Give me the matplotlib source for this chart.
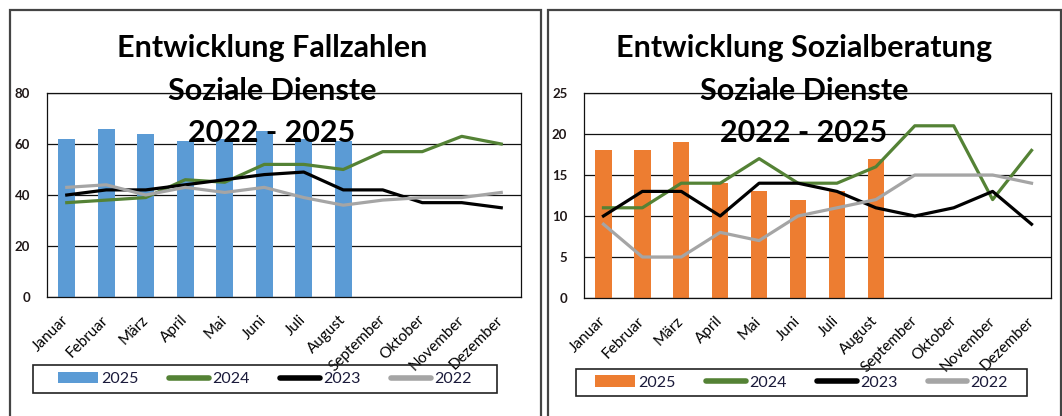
import matplotlib
matplotlib.use("Agg")
import matplotlib.pyplot as plt
from matplotlib.patches import Rectangle, Patch
from matplotlib.lines import Line2D

plt.rcParams["font.family"] = ["Lato", "DejaVu Sans"]

W, H = 1062, 416

months = ["Januar", "Februar", "März", "April", "Mai", "Juni", "Juli",
          "August", "September", "Oktober", "November", "Dezember"]

# Fallzahlen
fall_2025 = [62, 66, 64, 61, 62, 65, 62, 61]
fall_2024 = [37, 38, 39, 46, 45, 52, 52, 50, 57, 57, 63, 60]
fall_2023 = [40, 42, 42, 44, 46, 48, 49, 42, 42, 37, 37, 35]
fall_2022 = [43, 44, 40, 43, 41, 43, 39, 36, 38, 39, 39, 41]

# Sozialberatung
sb_2025 = [18, 18, 19, 14, 13, 12, 13, 17]
sb_2024 = [11, 11, 14, 14, 17, 14, 14, 16, 21, 21, 12, 18]
sb_2023 = [10, 13, 13, 10, 14, 14, 13, 11, 10, 11, 13, 9]
sb_2022 = [9, 5, 5, 8, 7, 10, 11, 12, 15, 15, 15, 14]

BLUE = "#5b9bd5"
ORANGE = "#ed7d31"
GREEN = "#548235"
BLACK = "#000000"
GRAY = "#a5a5a5"


def px_rect(x0, y0, x1, y1):
    # pixel box (top-left origin) -> figure fraction [l, b, w, h]
    return [x0 / W, 1 - y1 / H, (x1 - x0) / W, (y1 - y0) / H]


def draw_panel(fig, box, bars, bar_color, s24, s23, s22, ymax, ystep,
               title, title_x, legend_box, frame_box):
    ax = fig.add_axes(px_rect(*box))
    x = range(len(months))
    ax.bar(range(len(bars)), bars, width=0.42, color=bar_color, zorder=2)
    ax.plot(x, s24, color=GREEN, lw=2.3, zorder=3)
    ax.plot(x, s23, color=BLACK, lw=2.3, zorder=3)
    ax.plot(x, s22, color=GRAY, lw=2.3, zorder=3)

    ax.set_xlim(-0.5, len(months) - 0.5)
    ax.set_ylim(0, ymax)
    ax.set_yticks(range(0, ymax + 1, ystep))
    ax.yaxis.grid(True, color="#111111", lw=0.9, zorder=1)
    ax.set_axisbelow(True)
    for sp in ax.spines.values():
        sp.set_color("#111111")
        sp.set_linewidth(0.9)

    ax.set_xticks(list(x))
    ax.set_xticklabels(months, rotation=45, ha="right", va="center",
                       rotation_mode="anchor", fontsize=11, color="#000000")
    ax.tick_params(axis="x", length=0, pad=15)
    ax.tick_params(axis="y", length=0, pad=12, labelsize=9.5,
                   labelcolor="#201818")
    for lab in ax.get_yticklabels():
        lab.set_fontweight("bold")

    # title lines
    for txt, yb in zip(title, [57, 100, 142]):
        fig.text(title_x / W, 1 - yb / H, txt, ha="center", va="baseline",
                 fontsize=22, fontweight="bold", color="#000000", zorder=5)

    # legend frame + legend
    lx0, ly0, lx1, ly1 = legend_box
    fig.patches.append(Rectangle((lx0 / W, 1 - ly1 / H), (lx1 - lx0) / W,
                                 (ly1 - ly0) / H, transform=fig.transFigure,
                                 fill=False, ec="#222222", lw=1.2, zorder=4))
    handles = [
        Patch(facecolor=bar_color, edgecolor="none"),
        Line2D([], [], color=GREEN, lw=4, solid_capstyle="round"),
        Line2D([], [], color=BLACK, lw=4, solid_capstyle="round"),
        Line2D([], [], color=GRAY, lw=4, solid_capstyle="round"),
    ]
    fig.legend(handles, ["2025", "2024", "2023", "2022"], ncol=4,
               loc="center", bbox_to_anchor=((lx0 + lx1) / 2 / W,
                                             1 - (ly0 + ly1) / 2 / H),
               frameon=False, fontsize=11.5, handlelength=2.5,
               handletextpad=0.2, columnspacing=1.9, labelcolor="#1a1a3a")

    # outer chart frame
    fx0, fy0, fx1, fy1 = frame_box
    fig.patches.append(Rectangle((fx0 / W, 1 - fy1 / H), (fx1 - fx0) / W,
                                 (fy1 - fy0) / H, transform=fig.transFigure,
                                 fill=False, ec="#444444", lw=1.6, zorder=0))
    return ax


fig = plt.figure(figsize=(W / 100, H / 100), dpi=100)
fig.patch.set_facecolor("white")

draw_panel(fig, (47, 93, 521, 297), fall_2025, BLUE, fall_2024, fall_2023,
           fall_2022, 80, 20,
           ["Entwicklung Fallzahlen", "Soziale Dienste", "2022 - 2025"], 272,
           (33, 365, 497, 393), (10, 10, 541, 430))

draw_panel(fig, (584, 93, 1051, 298), sb_2025, ORANGE, sb_2024, sb_2023,
           sb_2022, 25, 5,
           ["Entwicklung Sozialberatung", "Soziale Dienste", "2022 - 2025"], 804,
           (576, 369, 1027, 396), (548, 10, 1061, 430))

fig.savefig("out.png", dpi=100)
